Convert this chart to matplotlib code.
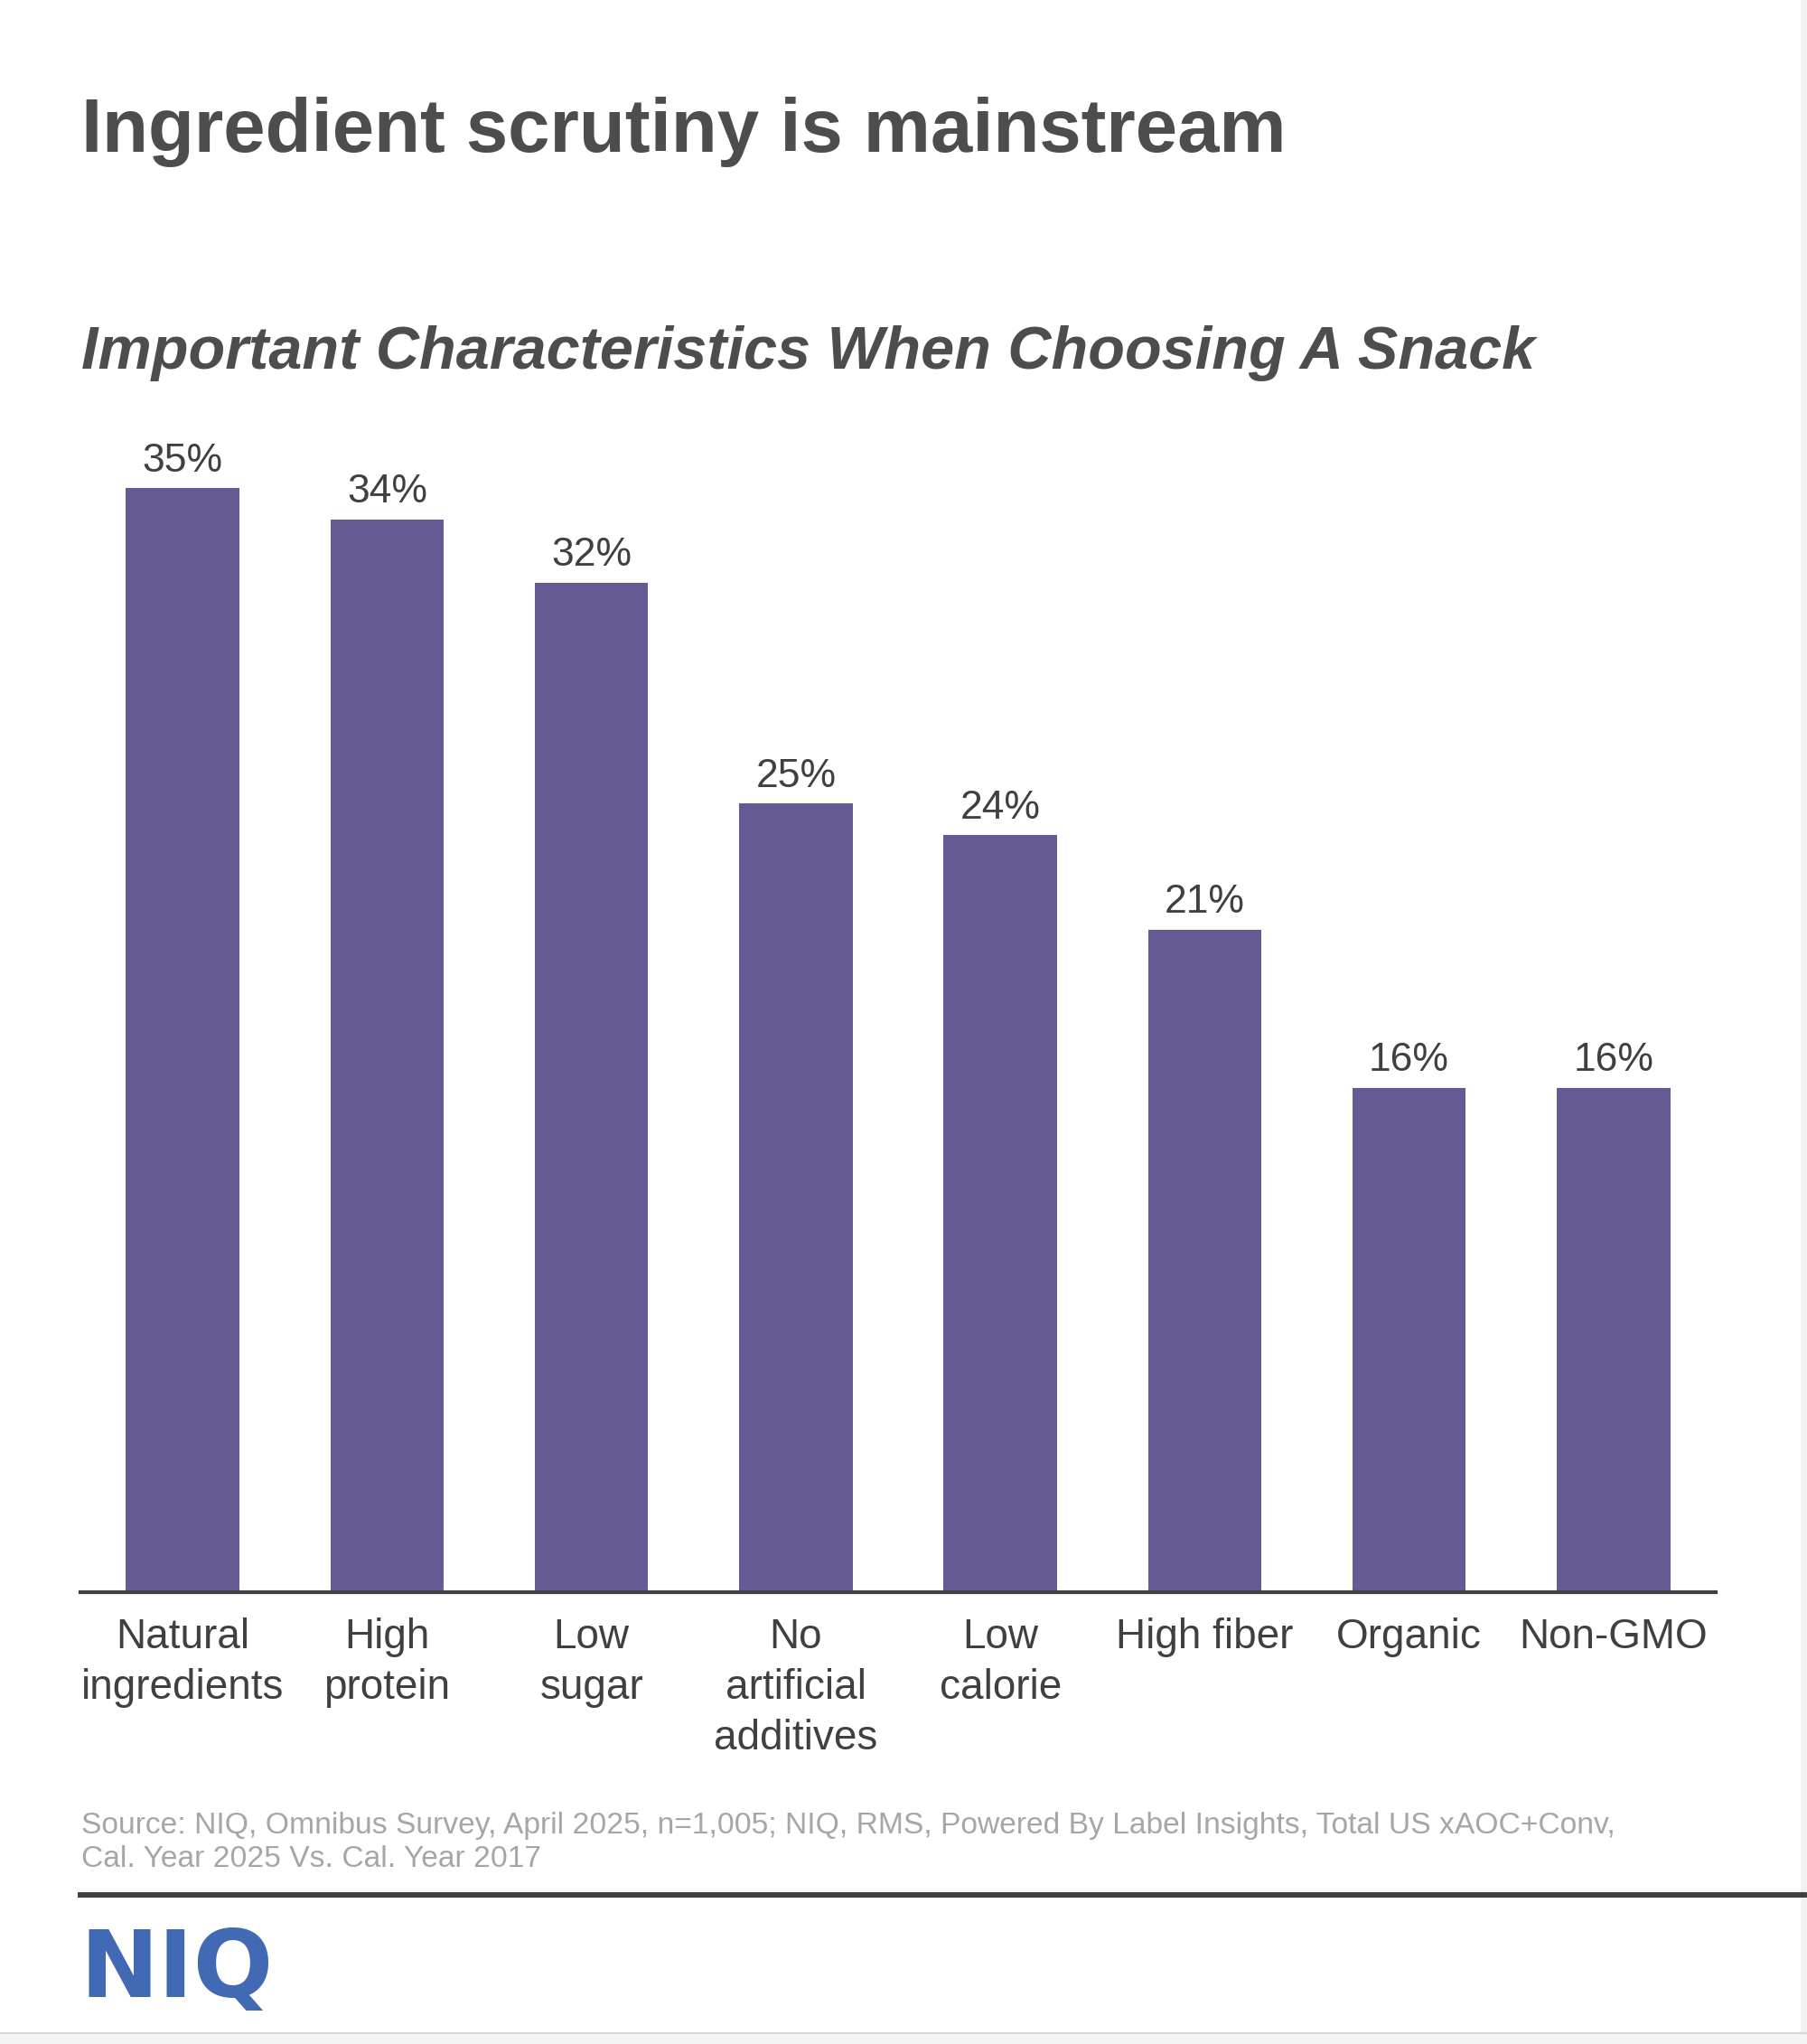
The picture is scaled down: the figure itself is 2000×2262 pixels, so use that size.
import matplotlib
matplotlib.use("Agg")
import matplotlib.pyplot as plt
from matplotlib.patches import Rectangle
from matplotlib.lines import Line2D

plt.rcParams['font.family'] = ['Liberation Sans', 'DejaVu Sans']

# Data
categories = ["Natural\ningredients", "High\nprotein", "Low\nsugar",
              "No\nartificial\nadditives", "Low\ncalorie", "High fiber",
              "Organic", "Non-GMO"]
values = [35, 34, 32, 25, 24, 21, 16, 16]

title = "Ingredient scrutiny is mainstream"
subtitle = "Important Characteristics When Choosing A Snack"
source = ("Source: NIQ, Omnibus Survey, April 2025, n=1,005; NIQ, RMS, Powered By Label Insights, Total US xAOC+Conv,\n"
          "Cal. Year 2025 Vs. Cal. Year 2017")

W, H = 2000, 2262
fig = plt.figure(figsize=(W / 100, H / 100), dpi=100)
fig.patch.set_facecolor("white")

def fx(px):
    return px / W

def fy(py):
    return 1 - py / H

# light page edges
fig.patches.append(Rectangle((fx(1993), 0), fx(7), 1, transform=fig.transFigure,
                             facecolor="#f1f1f1", edgecolor="none", zorder=0))
fig.patches.append(Rectangle((0, 0), 1, fy(2250), transform=fig.transFigure,
                             facecolor="#f4f4f4", edgecolor="none", zorder=0))
fig.lines.append(Line2D([0, 1], [fy(2250), fy(2250)], transform=fig.transFigure,
                        color="#d6d6d6", lw=1.5))

# bar axes
ax = fig.add_axes([fx(89), fy(1762), fx(1899 - 89), (1762 - 460) / H])
x = range(len(values))
bars = ax.bar(x, values, width=0.555, color="#675a94", zorder=2)
ax.set_xlim(-0.5, 7.5)
ax.set_ylim(0, 37.3)

for b, v in zip(bars, values):
    ax.annotate(f"{v}%", (b.get_x() + b.get_width() / 2, v), xytext=(0, 13.5),
                textcoords="offset points", ha="center", va="baseline",
                fontsize=32, color="#404040", clip_on=False)

ax.set_xticks(list(x))
ax.set_xticklabels(categories, fontsize=33, color="#404040", linespacing=1.36)
ax.tick_params(axis="x", length=0, pad=20)
ax.set_yticks([])
for s in ["top", "right", "left"]:
    ax.spines[s].set_visible(False)
ax.spines["bottom"].set_color("#404040")
ax.spines["bottom"].set_linewidth(3)
ax.patch.set_alpha(0)

# titles
fig.text(fx(90), fy(168), title, fontsize=60, fontweight="bold",
         color="#4d4d4d", ha="left", va="baseline")
fig.text(fx(90), fy(408), subtitle, fontsize=48, fontweight="bold",
         fontstyle="italic", color="#4d4d4d", ha="left", va="baseline")

# source note (baseline given for the last line)
fig.text(fx(90), fy(2066), source, fontsize=24.2, color="#a6a6a6",
         ha="left", va="baseline", linespacing=1.27)

# separator and logo
fig.lines.append(Line2D([fx(89), 1], [fy(2097), fy(2097)], transform=fig.transFigure,
                        color="#404040", lw=4.3))
fig.text(fx(88), fy(2210), "NIQ", fontsize=75, fontweight="bold",
         family="DejaVu Sans", color="#4169b4", ha="left", va="baseline")

fig.savefig("out.png", dpi=100)
